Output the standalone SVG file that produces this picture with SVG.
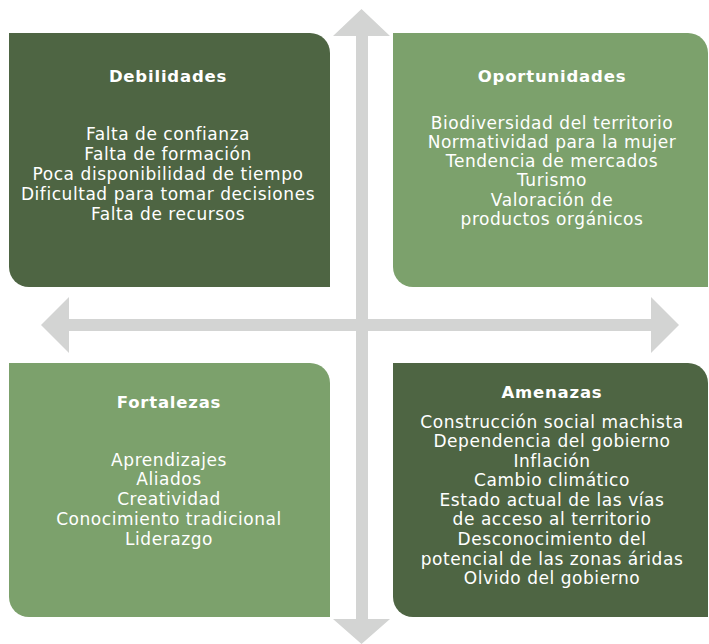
<svg xmlns="http://www.w3.org/2000/svg" width="709" height="644" viewBox="0 0 709 644">
<style>
.dark{fill:#4E6543}
.light{fill:#7CA16C}
.arrow{fill:#D3D4D3}
text{font-family:"DejaVu Sans","Liberation Sans",sans-serif;fill:#ffffff;text-anchor:middle}
.title{font-size:16.5px;font-weight:bold;letter-spacing:0.8px}
.body{font-size:17px;letter-spacing:0.55px}
</style>
<rect width="709" height="644" fill="#ffffff"/>
<g id="connectors">
<path class="arrow" d="M356,36 H333 L361.5,9 L390,36 H368 V319 H651 V297 L679,325 L651,353 V331 H368 V619 H390 L361.5,644 L333,619 H356 V331 H69 V353 L41,325 L69,297 V319 H356 Z"/>
</g>
<g id="debilidades">
<path class="dark" d="M9,33 H310 A20,20 0 0 1 330,53 V287 H29 A20,20 0 0 1 9,267 Z"/>
<text class="title" x="168" y="82">Debilidades</text>
<text class="body" x="168" y="140">Falta de confianza</text>
<text class="body" x="168" y="160">Falta de formación</text>
<text class="body" x="168" y="180">Poca disponibilidad de tiempo</text>
<text class="body" x="168" y="200">Dificultad para tomar decisiones</text>
<text class="body" x="168" y="220">Falta de recursos</text>
</g>
<g id="oportunidades">
<path class="light" d="M393,33 H688 A20,20 0 0 1 708,53 V287 H413 A20,20 0 0 1 393,267 Z"/>
<text class="title" x="552" y="82">Oportunidades</text>
<text class="body" x="552" y="129">Biodiversidad del territorio</text>
<text class="body" x="552" y="148">Normatividad para la mujer</text>
<text class="body" x="552" y="167">Tendencia de mercados</text>
<text class="body" x="552" y="186">Turismo</text>
<text class="body" x="552" y="206">Valoración de</text>
<text class="body" x="552" y="225">productos orgánicos</text>
</g>
<g id="fortalezas">
<path class="light" d="M9,363 H310 A20,20 0 0 1 330,383 V617 H29 A20,20 0 0 1 9,597 Z"/>
<text class="title" x="169" y="408">Fortalezas</text>
<text class="body" x="169" y="466">Aprendizajes</text>
<text class="body" x="169" y="485">Aliados</text>
<text class="body" x="169" y="505">Creatividad</text>
<text class="body" x="169" y="525">Conocimiento tradicional</text>
<text class="body" x="169" y="545">Liderazgo</text>
</g>
<g id="amenazas">
<path class="dark" d="M393,363 H688 A20,20 0 0 1 708,383 V617 H413 A20,20 0 0 1 393,597 Z"/>
<text class="title" x="552" y="398">Amenazas</text>
<text class="body" x="552" y="428">Construcción social machista</text>
<text class="body" x="552" y="447">Dependencia del gobierno</text>
<text class="body" x="552" y="467">Inflación</text>
<text class="body" x="552" y="486">Cambio climático</text>
<text class="body" x="552" y="506">Estado actual de las vías</text>
<text class="body" x="552" y="525">de acceso al territorio</text>
<text class="body" x="552" y="545">Desconocimiento del</text>
<text class="body" x="552" y="565">potencial de las zonas áridas</text>
<text class="body" x="552" y="584">Olvido del gobierno</text>
</g>
</svg>
